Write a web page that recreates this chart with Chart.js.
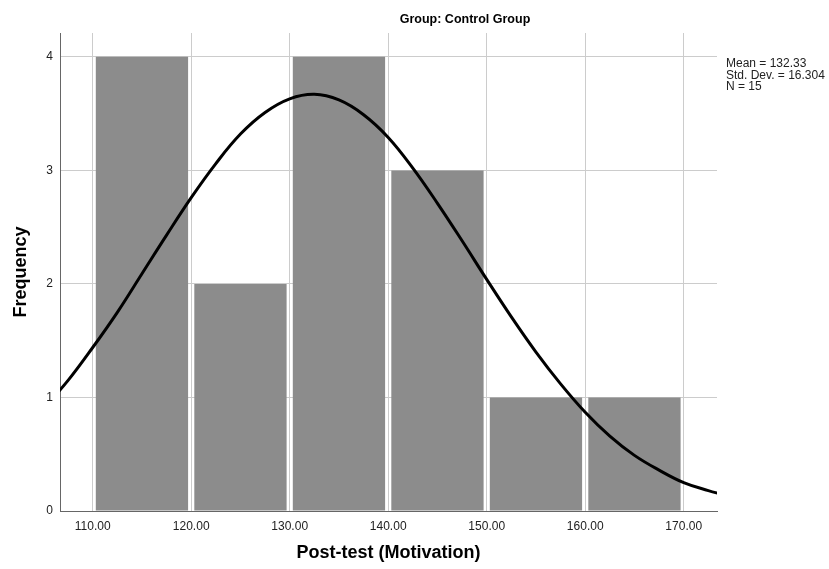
<!DOCTYPE html>
<html>
<head>
<meta charset="utf-8">
<script src="https://cdn.jsdelivr.net/npm/chart.js@4"></script>
<style>
  body { margin: 0; background: #fff; }
  canvas { display: block; }
</style>
</head>
<body>
<canvas id="histChart" width="829" height="569"></canvas>
<script>
"use strict";

// histogram bins (centres) and counts
const binCentres = [115, 125, 135, 145, 155, 165];
const binCounts = [4, 2, 4, 3, 1, 1];

// normal curve
const curveX = [105, 107.5, 110, 112.5, 115, 117.5, 120, 122.5, 125, 127.5, 130, 132.5, 135, 137.5, 140, 142.5, 145, 147.5, 150, 152.5, 155, 157.5, 160, 162.5, 165, 167.5, 170, 172.5, 175];
const curveY = [0.90, 1.15, 1.44, 1.75, 2.09, 2.43, 2.76, 3.06, 3.32, 3.51, 3.63, 3.67, 3.62, 3.49, 3.29, 3.02, 2.71, 2.38, 2.04, 1.71, 1.40, 1.12, 0.87, 0.66, 0.49, 0.36, 0.25, 0.18, 0.12];

const xTicks = [110, 120, 130, 140, 150, 160, 170];
const yTicks = [0, 1, 2, 3, 4];
const statsLines = ["Mean = 132.33", "Std. Dev. = 16.304", "N = 15"];

const ctx = document.getElementById('histChart');
const fam = 'Arial, "Liberation Sans", sans-serif';

const textPlugin = {
    id: 'textPlugin',
    afterDraw(chart) {
        const c = chart.ctx;
        c.save();
        c.fillStyle = '#000';
        c.font = 'bold 12.5px ' + fam;
        c.textAlign = 'center';
        c.textBaseline = 'middle';
        c.fillText('Group: Control Group', 465, 20);
        c.font = '12px ' + fam;
        c.textAlign = 'left';
        c.fillStyle = '#222';
        statsLines.forEach((t, i) => c.fillText(t, 726, 64 + i * 11.5));
        c.restore();
    }
};

new Chart(ctx, {
    type: 'bar',
    data: {
        datasets: [{
            type: 'line',
            data: curveX.map((x, i) => ({ x: x, y: curveY[i] })),
            borderColor: '#000',
            borderWidth: 3,
            pointRadius: 0,
            tension: 0.4,
            fill: false,
            order: 0
        }, {
            type: 'bar',
            data: binCentres.map((x, i) => ({ x: x, y: binCounts[i] })),
            backgroundColor: '#8c8c8c',
            borderWidth: 0,
            categoryPercentage: 1,
            barPercentage: 0.937,
            order: 1
        }]
    },
    options: {
        responsive: false,
        animation: false,
        layout: { padding: { top: 33, right: 112, left: 0, bottom: 0 } },
        plugins: { legend: { display: false }, tooltip: { enabled: false } },
        scales: {
            x: {
                type: 'linear',
                min: 106.68,
                max: 173.38,
                offset: false,
                afterBuildTicks: s => { s.ticks = xTicks.map(v => ({ value: v })); },
                afterFit: s => { s.height = 58; },
                grid: { color: '#cccccc', drawTicks: false, offset: false },
                border: { color: '#666', width: 1 },
                ticks: {
                    padding: 8,
                    color: '#222',
                    font: { family: fam, size: 12 },
                    callback: v => v.toFixed(2)
                },
                title: {
                    display: true,
                    text: 'Post-test (Motivation)',
                    color: '#000',
                    font: { family: fam, size: 18, weight: 'bold' },
                    padding: { top: 4, bottom: 5 }
                }
            },
            y: {
                min: 0,
                max: 4.21,
                afterBuildTicks: s => { s.ticks = yTicks.map(v => ({ value: v })); },
                afterFit: s => { s.width = 60; },
                grid: { color: '#cccccc', drawTicks: false },
                border: { color: '#666', width: 1 },
                ticks: {
                    padding: 7,
                    color: '#222',
                    font: { family: fam, size: 12 }
                },
                title: {
                    display: true,
                    text: 'Frequency',
                    color: '#000',
                    font: { family: fam, size: 18, weight: 'bold' },
                    padding: { top: 10, bottom: 4 }
                }
            }
        }
    },
    plugins: [textPlugin]
});
</script>
</body>
</html>
